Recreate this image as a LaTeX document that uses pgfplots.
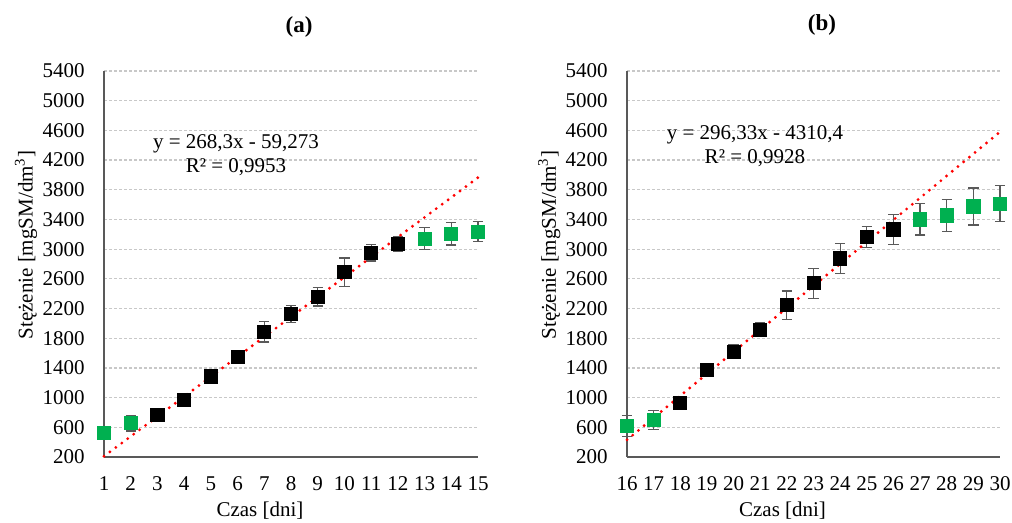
\documentclass[border=0pt]{standalone}
\usepackage{fontspec}
\setmainfont{Liberation Serif}
\usepackage{pgfplots}
\pgfplotsset{compat=1.18}
\definecolor{mygreen}{HTML}{00B050}
\definecolor{axgray}{HTML}{595959}
\definecolor{gridgray}{HTML}{C8C8C8}
\definecolor{trendred}{HTML}{FF0000}

\pgfplotstableread{
x y e
3 770 40
4 965 55
5 1285 60
6 1550 50
7 1890 140
8 2130 115
9 2360 125
10 2690 190
11 2950 110
12 3070 95
}\dataAblack
\pgfplotstableread{
x y e
1 520 60
2 655 105
13 3140 150
14 3205 150
15 3235 135
}\dataAgreen
\pgfplotstableread{
x y e
18 927 40
19 1370 50
20 1620 90
21 1915 90
22 2245 190
23 2540 200
24 2875 200
25 3160 140
26 3265 200
}\dataBblack
\pgfplotstableread{
x y e
16 615 140
17 700 130
27 3400 210
28 3455 215
29 3575 250
30 3615 245
}\dataBgreen

\pgfplotsset{
  myaxis/.style={
    scale only axis, height=193pt,
    ymin=200, ymax=5400, ytick={200,600,...,5400},
    axis x line*=bottom, axis y line*=left,
    axis line style={axgray, line width=1pt, -},
    major tick length=0pt,
    ymajorgrids,
    grid style={gridgray, line width=0.6pt, dash pattern=on 1.5pt off 1pt},
    tick label style={font=\fontsize{10.5}{12}\selectfont, inner sep=0pt},
    /pgf/number format/assume math mode=true,
    /pgf/number format/set thousands separator={},
    yticklabel style={anchor=east, xshift=-9.5pt},
    xticklabel style={anchor=north, yshift=-9.5pt},
    label style={font=\fontsize{10.5}{12}\selectfont},
    ylabel={Stężenie [mgSM/dm\textsuperscript{3}]},
    xlabel={Czas [dni]},
    ylabel style={at={(axis description cs:-0.2086,0.549)}, anchor=center},
    xlabel style={at={(axis description cs:0.417,-0.14)}, anchor=center},
    clip=false,
  },
  blackpts/.style={only marks, mark=square*, mark size=3.3pt,
    mark options={fill=black, draw=black},
    error bars/.cd, y dir=both, y explicit,
    error bar style={axgray, line width=0.6pt},
    error mark options={rotate=90, mark size=2.6pt, axgray, line width=0.6pt}},
  greenpts/.style={only marks, mark=square*, mark size=3.3pt,
    mark options={fill=mygreen, draw=mygreen},
    error bars/.cd, y dir=both, y explicit,
    error bar style={axgray, line width=0.6pt},
    error mark options={rotate=90, mark size=2.6pt, axgray, line width=0.6pt}},
  trend/.style={no marks, trendred, line width=1.6pt, line cap=round,
    dash pattern=on 0pt off 3.7pt},
}

\begin{document}
\begin{tikzpicture}
\path[use as bounding box] (0,0) rectangle (506pt,261.5pt);

\begin{axis}[myaxis, at={(52pt,33pt)}, anchor=south west, width=187pt,
  xmin=1, xmax=15, xtick={1,...,15}]
\addplot+[blackpts] table[x=x, y=y, y error=e] {\dataAblack};
\addplot+[greenpts] table[x=x, y=y, y error=e] {\dataAgreen};
\addplot[trend] coordinates {(1,209.0) (15,3965.2)};
\node[align=center, font=\fontsize{10.5}{12}\selectfont, inner sep=0pt]
  at (axis description cs:0.353,0.782) {y = 268,3x - 59,273\\R² = 0,9953};
\end{axis}

\begin{axis}[myaxis, at={(313.5pt,33pt)}, anchor=south west, width=186.5pt,
  xmin=16, xmax=30, xtick={16,...,30}]
\addplot+[blackpts] table[x=x, y=y, y error=e] {\dataBblack};
\addplot+[greenpts] table[x=x, y=y, y error=e] {\dataBgreen};
\addplot[trend] coordinates {(16,430.9) (30,4579.5)};
\node[align=center, font=\fontsize{10.5}{12}\selectfont, inner sep=0pt]
  at (axis description cs:0.343,0.806) {y = 296,33x - 4310,4\\R² = 0,9928};
\end{axis}

\node[font=\fontsize{11.5}{13}\selectfont\bfseries] at (149.5pt,248pt) {(a)};
\node[font=\fontsize{11.5}{13}\selectfont\bfseries] at (411pt,249pt) {(b)};
\end{tikzpicture}
\end{document}
